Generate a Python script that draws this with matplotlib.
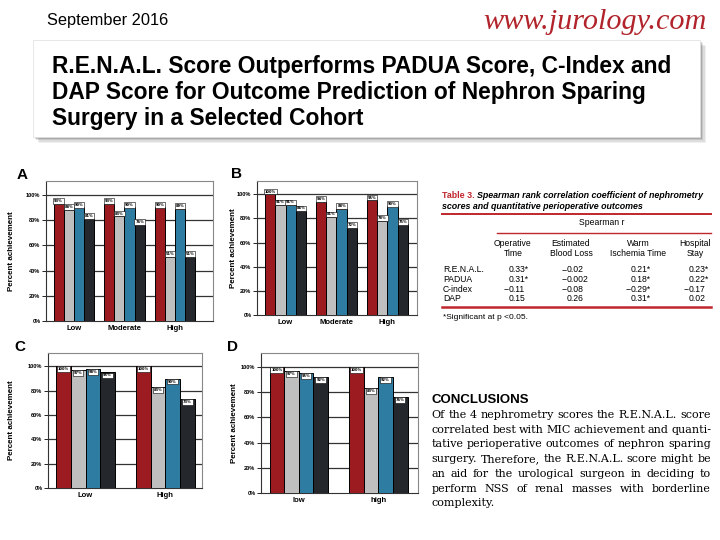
import numpy as np
import matplotlib
matplotlib.use("Agg")
import matplotlib.pyplot as plt
from matplotlib.patches import Rectangle
from matplotlib.lines import Line2D

W, H = 720, 540

# bar colours: R.E.N.A.L., PADUA, C-index, DAP
bar_colors = ['#9b1b20', '#bfbfbf', '#2f7ca3', '#24272b']

# panel data (percent achievement)
groups_a = ['Low', 'Moderate', 'High']
renal_a = [93, 93, 90]
padua_a = [88, 83, 51]
cindex_a = [90, 90, 89]
dap_a = [81, 76, 51]

groups_b = ['Low', 'Moderate', 'High']
renal_b = [100, 94, 95]
padua_b = [91, 81, 78]
cindex_b = [91, 88, 90]
dap_b = [86, 72, 75]

groups_c = ['Low', 'High']
renal_c = [100, 100]
padua_c = [97, 83]
cindex_c = [98, 90]
dap_c = [95, 73]

groups_d = ['low', 'high']
renal_d = [100, 100]
padua_d = [97, 83]
cindex_d = [95, 92]
dap_d = [92, 76]

y_ticks = [0, 20, 40, 60, 80, 100]

# table 3
table_rows = ['R.E.N.A.L.', 'PADUA', 'C-index', 'DAP']
table_cols = [('Operative', 'Time'), ('Estimated', 'Blood Loss'),
              ('Warm', 'Ischemia Time'), ('Hospital', 'Stay')]
op_time = ['0.33*', '0.31*', '\u22120.11', '0.15']
blood_loss = ['\u22120.02', '\u22120.002', '\u22120.08', '0.26']
ischemia = ['0.21*', '0.18*', '\u22120.29*', '0.31*']
hosp_stay = ['0.23*', '0.22*', '\u22120.17', '0.02']

title_lines = ['R.E.N.A.L. Score Outperforms PADUA Score, C-Index and',
               'DAP Score for Outcome Prediction of Nephron Sparing',
               'Surgery in a Selected Cohort']

concl_lines = ['Of the 4 nephrometry scores the R.E.N.A.L. score',
               'correlated best with MIC achievement and quanti-',
               'tative perioperative outcomes of nephron sparing',
               'surgery. Therefore, the R.E.N.A.L. score might be',
               'an aid for the urological surgeon in deciding to',
               'perform NSS of renal masses with borderline',
               'complexity.']

sans = ['Liberation Sans', 'DejaVu Sans']


def fx(x):
    return x / W


def fy(y):
    return 1 - y / H


fig = plt.figure(figsize=(7.2, 5.4), dpi=100)
fig.patch.set_facecolor('white')
renderer = fig.canvas.get_renderer()

# header
fig.text(fx(47), fy(20), 'September 2016', fontsize=11.8, family=sans,
         va='center', ha='left')
fig.text(fx(707), fy(22), 'www.jurology.com', fontsize=21.8, family=['Liberation Serif'],
         style='italic', color='#b1242b', va='center', ha='right')

# title box with soft shadow
for k, a in enumerate([0.06, 0.08, 0.1, 0.14]):
    off = 6 - k * 1.5
    fig.patches.append(Rectangle((fx(33 + off), fy(137 + off)), 667 / W, 97 / H,
                                 transform=fig.transFigure, fc='black', ec='none',
                                 alpha=a, zorder=1))
fig.patches.append(Rectangle((fx(33), fy(137)), 667 / W, 97 / H, transform=fig.transFigure,
                             fc='white', ec='#dddddd', lw=0.5, zorder=2))
for i, line in enumerate(title_lines):
    fig.text(fx(52), fy(66 + i * 26), line, fontsize=16.4, fontweight='bold',
             family=sans, va='center', ha='left', zorder=3)


def panel(rect, letter, letter_xy, ylab_x, groups, series, bw, xlim, label_above):
    l, t, r, b = rect
    ax = fig.add_axes([fx(l), fy(b), (r - l) / W, (b - t) / H])
    n = len(groups)
    x = np.arange(n)
    for i, (vals, col) in enumerate(zip(series, bar_colors)):
        xs = x + (i - 1.5) * bw
        ax.bar(xs, vals, bw, color=col, edgecolor='black', linewidth=0.7, zorder=3)
        for xi, v in zip(xs, vals):
            ax.text(xi, v + (0.6 if label_above else -0.8), '%d%%' % v,
                    ha='center', va='bottom' if label_above else 'top',
                    fontsize=2.6, fontweight='bold', zorder=4,
                    bbox=dict(boxstyle='square,pad=0.25', fc='white', ec='black', lw=0.4))
    ax.set_xlim(*xlim)
    ax.set_ylim(0, 111)
    ax.set_yticks(y_ticks)
    ax.set_yticklabels(['%d%%' % v for v in y_ticks], fontsize=4.1, fontweight='bold',
                       family=sans)
    ax.set_xticks(x)
    ax.set_xticklabels(groups, fontsize=5.5, fontweight='bold', family=sans)
    ax.tick_params(axis='x', length=0, pad=3)
    ax.tick_params(axis='y', length=3, width=0.6, pad=1)
    for yv in y_ticks[1:]:
        ax.axhline(yv, color='#333333', lw=0.9, zorder=1)
    for s in ['top', 'right']:
        ax.spines[s].set_color('#888888')
        ax.spines[s].set_linewidth(0.8)
    for s in ['left', 'bottom']:
        ax.spines[s].set_color('#333333')
        ax.spines[s].set_linewidth(0.8)
    fig.text(fx(letter_xy[0]), fy(letter_xy[1]), letter, fontsize=11, fontweight='bold',
             family=sans, ha='center', va='center')
    fig.text(fx(ylab_x), fy((t + b) / 2), 'Percent achievement', rotation=90, fontsize=5.8,
             fontweight='bold', family=sans, ha='center', va='center')
    return ax


panel((46, 181, 213, 321), 'A', (22, 175), 11.5, groups_a,
      [renal_a, padua_a, cindex_a, dap_a], 0.2, (-0.55, 2.75), True)
panel((257, 181, 417, 315), 'B', (237, 174), 233.5, groups_b,
      [renal_b, padua_b, cindex_b, dap_b], 0.2, (-0.56, 2.58), True)
panel((48, 353, 202, 488), 'C', (20, 347), 11.5, groups_c,
      [renal_c, padua_c, cindex_c, dap_c], 0.184, (-0.47, 1.46), False)
panel((261, 353, 418, 493), 'D', (233, 347), 234, groups_d,
      [renal_d, padua_d, cindex_d, dap_d], 0.184, (-0.475, 1.5), False)

# table 3
red = '#c0262d'
cfs = 6.4
cap = fig.text(fx(442), fy(196), 'Table 3.', fontsize=cfs, fontweight='bold', color=red,
               family=sans, va='center', ha='left')
cap_w = cap.get_window_extent(renderer).width
fig.text(fx(442 + cap_w + 2.5), fy(196), 'Spearman rank correlation coefficient of nephrometry',
         fontsize=cfs, fontweight='bold', style='italic', family=sans, va='center', ha='left')
fig.text(fx(442), fy(206.5), 'scores and quantitative perioperative outcomes',
         fontsize=cfs, fontweight='bold', style='italic', family=sans, va='center', ha='left')


def hline(x0, x1, y, lw, color=red):
    fig.add_artist(Line2D([fx(x0), fx(x1)], [fy(y), fy(y)], transform=fig.transFigure,
                          color=color, lw=lw))


tfs = 6.2
hline(442, 711, 214.5, 1.4)
fig.text(fx(602), fy(222.5), 'Spearman r', fontsize=tfs, family=sans, ha='center',
         va='center')
hline(497, 711, 232.5, 1.0)
col_centers = [513, 571, 638, 695]
for cx, (h1, h2) in zip(col_centers, table_cols):
    fig.text(fx(cx), fy(243), h1, fontsize=tfs, family=sans, ha='center', va='center')
    fig.text(fx(cx), fy(253), h2, fontsize=tfs, family=sans, ha='center', va='center')

row_y = [269.5, 279, 289, 298.5]
col_x0 = [508.5, 566.5, 630.5, 688.5]
for ry, name, *vals in zip(row_y, table_rows, op_time, blood_loss, ischemia, hosp_stay):
    fig.text(fx(443), fy(ry), name, fontsize=tfs, family=sans, ha='left', va='center')
    for x0, v in zip(col_x0, vals):
        if v.startswith('\u2212'):
            fig.text(fx(x0), fy(ry), '\u2212', fontsize=tfs, family=sans, ha='right',
                     va='center')
            v = v[1:]
        fig.text(fx(x0), fy(ry), v, fontsize=tfs, family=sans, ha='left', va='center')
hline(442, 711, 306.5, 1.8)
fig.text(fx(443), fy(317.5), '*Significant at p <0.05.', fontsize=6.0, family=sans,
         ha='left', va='center')

# conclusions
fig.text(fx(431), fy(400), 'CONCLUSIONS', fontsize=9.5, fontweight='bold', family=sans,
         ha='left', va='center')
cx0, cx1 = 431.5, 711
line_y = [415, 429.7, 444.4, 459.1, 473.8, 488.5, 503]
for i, (ly, line) in enumerate(zip(line_y, concl_lines)):
    words = line.split()
    txts = [fig.text(0, fy(ly), w_, fontsize=8.0, family=['DejaVu Serif'], ha='left',
                     va='center', color='black') for w_ in words]
    widths = [t.get_window_extent(renderer).width for t in txts]
    if i < len(concl_lines) - 1:
        gap = (cx1 - cx0 - sum(widths)) / (len(words) - 1)
    else:
        gap = 4.5
    xpos = cx0
    for t, wd in zip(txts, widths):
        t.set_x(fx(xpos))
        xpos += wd + gap

fig.savefig('out.png', dpi=100)
